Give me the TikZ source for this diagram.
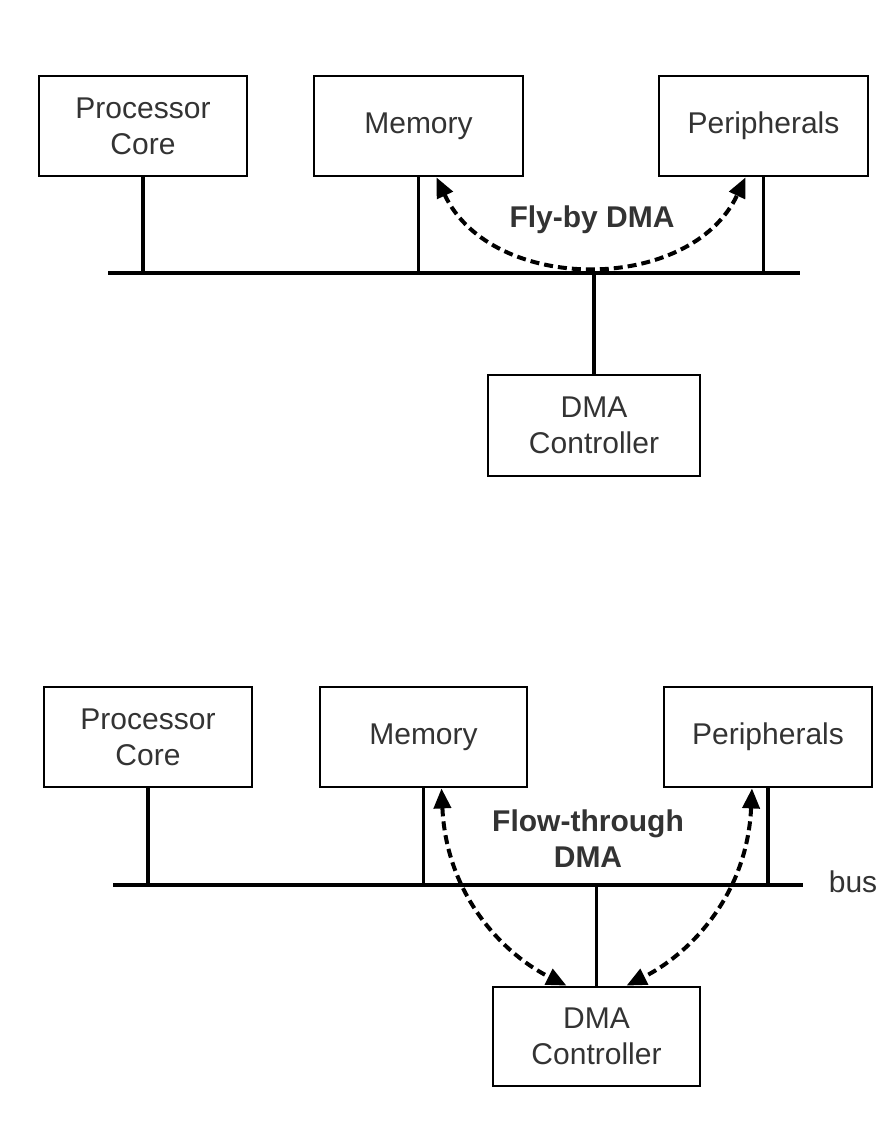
\documentclass[tikz,border=0pt]{standalone}
\usepackage{fontspec}
\setmainfont{Liberation Sans}
\usetikzlibrary{arrows.meta}
\begin{document}
\begin{tikzpicture}[x=1pt,y=-1pt,
  blk/.style={draw=black, line width=2.8pt, minimum width=208pt, minimum height=100pt,
    align=center, inner sep=0pt, text=black!80, font=\fontsize{30}{36}\selectfont},
  lbl/.style={align=center, inner sep=0pt, text=black!80, font=\fontsize{30}{36}\selectfont},
  blbl/.style={lbl, font=\fontsize{30}{36}\selectfont\bfseries},
  busline/.style={line width=4.4pt},
  stub/.style={line width=3.4pt},
  dma/.style={line width=4pt, dash pattern=on 9pt off 5pt,
    {Triangle[length=20pt,width=17pt]}-{Triangle[length=20pt,width=17pt]}}]
\useasboundingbox (0,0) rectangle (888,1122);

% ---- top: fly-by ----
\node[blk, minimum width=208pt] (pc1) at (143,126) {Processor\\Core};
\node[blk, minimum width=209pt] (mem1) at (418.5,126) {Memory};
\node[blk, minimum width=209pt] (per1) at (763.5,126) {Peripherals};
\node[blk, minimum width=212pt, minimum height=101pt] (dma1) at (594,425.5) {DMA\\Controller};
\coordinate (b1L) at (108,273);
\coordinate (b1R) at (800,273);
\draw[busline] (b1L) -- (b1R);
\draw[stub] (pc1.south) -- (pc1.south |- b1L);
\draw[stub] (mem1.south) -- (mem1.south |- b1L);
\draw[stub] (per1.south) -- (per1.south |- b1L);
\draw[stub] (dma1.north) -- (dma1.north |- b1L);
\draw[dma] ([xshift=18pt]mem1.south) .. controls +(55,117) and +(-55,117) .. ([xshift=-18pt]per1.south);
\node[blbl] (fly) at (592,220) {Fly-by DMA};

% ---- bottom: flow-through ----
\node[blk, minimum width=208pt] (pc2) at (148,737) {Processor\\Core};
\node[blk, minimum width=207pt] (mem2) at (423.5,737) {Memory};
\node[blk, minimum width=208pt] (per2) at (768,737) {Peripherals};
\node[blk, minimum width=207pt, minimum height=99pt] (dma2) at (596.5,1036.5) {DMA\\Controller};
\coordinate (b2L) at (113,885);
\coordinate (b2R) at (803,885);
\draw[busline] (b2L) -- (b2R);
\draw[stub] (pc2.south) -- (pc2.south |- b2L);
\draw[stub] (mem2.south) -- (mem2.south |- b2L);
\draw[stub] (per2.south) -- (per2.south |- b2L);
\draw[stub] (dma2.north) -- (dma2.north |- b2L);
\draw[dma] ([xshift=18pt]mem2.south) .. controls +(5,110) and +(-60,-30) .. ([xshift=-30pt]dma2.north);
\draw[dma] ([xshift=-16pt]per2.south) .. controls +(-5,110) and +(60,-30) .. ([xshift=30pt]dma2.north);
\node[blbl] (flow) at (588,839) {Flow-through\\DMA};
\node[lbl] (bus) at (853,882) {bus};
\end{tikzpicture}
\end{document}
